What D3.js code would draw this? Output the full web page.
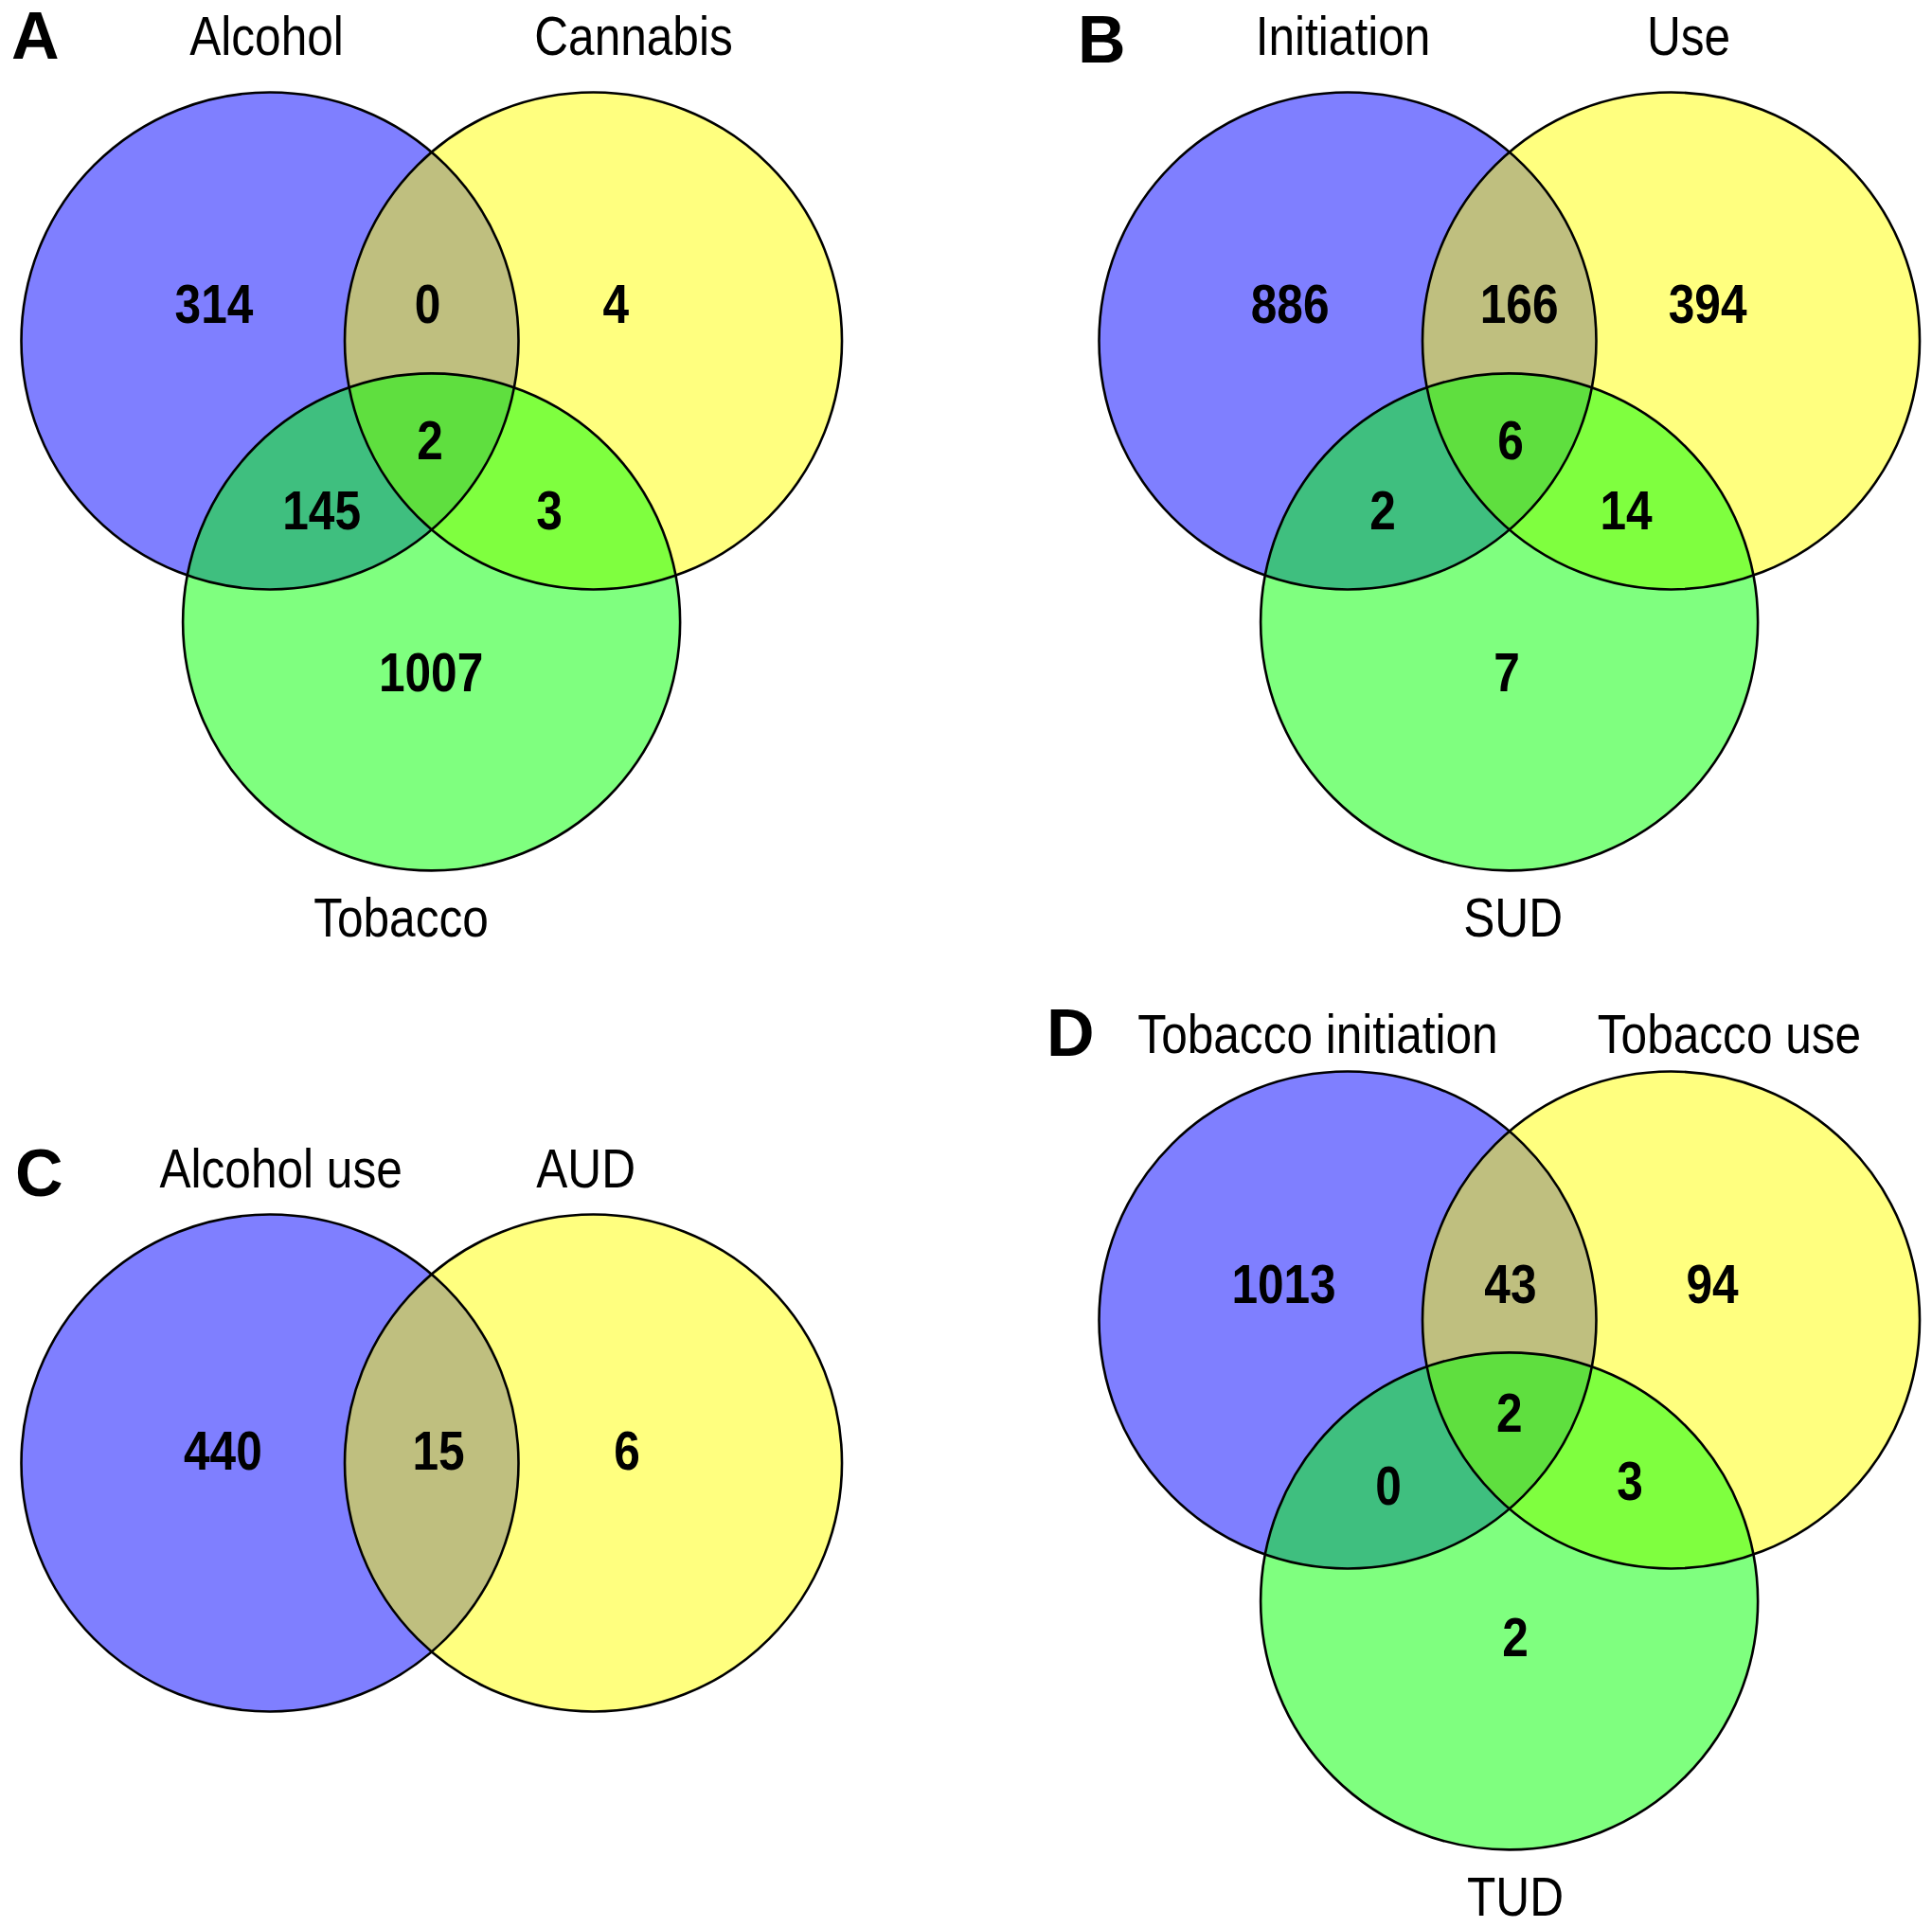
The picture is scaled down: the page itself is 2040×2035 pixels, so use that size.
<!DOCTYPE html>
<html>
<head>
<meta charset="utf-8">
<script src="https://cdn.jsdelivr.net/npm/d3@7"></script>
<style>
  html, body { margin: 0; padding: 0; background: #fff; }
  svg { display: block; }
</style>
</head>
<body>
<script>
// ---------------- DATA ----------------
const panelIds = ["A", "B", "C", "D"];

const setsA = ["Alcohol", "Cannabis", "Tobacco"];
// regions: only1, 1∩2, only2, 1∩2∩3, 1∩3, 2∩3, only3
const countsA = [314, 0, 4, 2, 145, 3, 1007];

const setsB = ["Initiation", "Use", "SUD"];
const countsB = [886, 166, 394, 6, 2, 14, 7];

const setsC = ["Alcohol use", "AUD"];
// regions: only1, 1∩2, only2
const countsC = [440, 15, 6];

const setsD = ["Tobacco initiation", "Tobacco use", "TUD"];
const countsD = [1013, 43, 94, 2, 0, 3, 2];

const fillColors = ["#0000FF", "#FFFF00", "#00FF00"];

// ---------------- LAYOUT ----------------
const W = 2040, H = 2035;
const FS = 57;          // label / number font size
const SX = 0.87;        // horizontal compression of text
const LETTER_FS = 70;

// circle geometry in unit radii (relative to circle 1 centre)
const circleUnits3 = [[0, 0], [1.301, 0], [0.65, 1.131]];
const circleUnits2 = [[0, 0], [1.301, 0]];

const panels = [
  { id: "A", sets: setsA, counts: countsA, cx: 285, cy: 360, r: 262.5, circles: circleUnits3,
    letter: [12, 62],
    setLabels: [[281.5, 58], [669, 58], [423.5, 989]],
    regionUnits: [[-0.225, -0.152], [0.634, -0.152], [1.392, -0.152], [0.644, 0.397], [0.208, 0.679], [1.124, 0.679], [0.648, 1.333]] },
  { id: "B", sets: setsB, counts: countsB, cx: 1423, cy: 360, r: 262.5, circles: circleUnits3,
    letter: [1138, 66],
    setLabels: [[1418, 58], [1783, 58], [1597.6, 989]],
    regionUnits: [[-0.232, -0.152], [0.690, -0.152], [1.448, -0.152], [0.655, 0.397], [0.141, 0.679], [1.120, 0.679], [0.640, 1.333]] },
  { id: "C", sets: setsC, counts: countsC, cx: 285, cy: 1545, r: 262.5, circles: circleUnits2,
    letter: [16, 1263],
    setLabels: [[296.6, 1254], [618.6, 1254]],
    regionUnits: [[-0.189, -0.050], [0.678, -0.050], [1.436, -0.050]] },
  { id: "D", sets: setsD, counts: countsD, cx: 1423, cy: 1394, r: 262.5, circles: circleUnits3,
    letter: [1105, 1115],
    setLabels: [[1391.5, 1112], [1826, 1112], [1600, 2023]],
    regionUnits: [[-0.257, -0.145], [0.655, -0.145], [1.467, -0.145], [0.651, 0.371], [0.164, 0.665], [1.135, 0.646], [0.674, 1.275]] }
];

const svg = d3.select("body").append("svg")
  .attr("width", W).attr("height", H)
  .attr("viewBox", `0 0 ${W} ${H}`);

svg.append("rect").attr("width", W).attr("height", H).attr("fill", "#fff");

panels.forEach(p => {
  const x = d3.scaleLinear().domain([0, 1]).range([p.cx, p.cx + p.r]);
  const y = d3.scaleLinear().domain([0, 1]).range([p.cy, p.cy + p.r]);
  const g = svg.append("g").attr("class", "panel-" + p.id);

  // fills
  g.selectAll("circle.fill").data(p.circles).join("circle")
    .attr("class", "fill")
    .attr("cx", d => x(d[0])).attr("cy", d => y(d[1]))
    .attr("r", x(1) - x(0))
    .attr("fill", (d, i) => fillColors[i])
    .attr("fill-opacity", 0.5);

  // outlines
  g.selectAll("circle.outline").data(p.circles).join("circle")
    .attr("class", "outline")
    .attr("cx", d => x(d[0])).attr("cy", d => y(d[1]))
    .attr("r", x(1) - x(0))
    .attr("fill", "none")
    .attr("stroke", "#000")
    .attr("stroke-width", 2.6);

  // region counts
  g.selectAll("text.count").data(p.counts).join("text")
    .attr("class", "count")
    .attr("transform", (d, i) => `translate(${x(p.regionUnits[i][0])},${y(p.regionUnits[i][1]) + 0.358 * FS}) scale(${SX},1)`)
    .attr("text-anchor", "middle")
    .attr("font-family", "'Liberation Sans', Arial, sans-serif")
    .attr("font-weight", "bold")
    .attr("font-size", FS)
    .attr("fill", "#000")
    .text(d => d);

  // set labels
  g.selectAll("text.setlab").data(p.sets).join("text")
    .attr("class", "setlab")
    .attr("transform", (d, i) => `translate(${p.setLabels[i][0]},${p.setLabels[i][1]}) scale(${SX},1)`)
    .attr("text-anchor", "middle")
    .attr("font-family", "'Liberation Sans', Arial, sans-serif")
    .attr("font-size", FS)
    .attr("fill", "#000")
    .text(d => d);

  // panel letter
  g.append("text")
    .attr("x", p.letter[0]).attr("y", p.letter[1])
    .attr("font-family", "'Liberation Sans', Arial, sans-serif")
    .attr("font-weight", "bold")
    .attr("font-size", LETTER_FS)
    .attr("fill", "#000")
    .text(p.id);
});
</script>
</body>
</html>
